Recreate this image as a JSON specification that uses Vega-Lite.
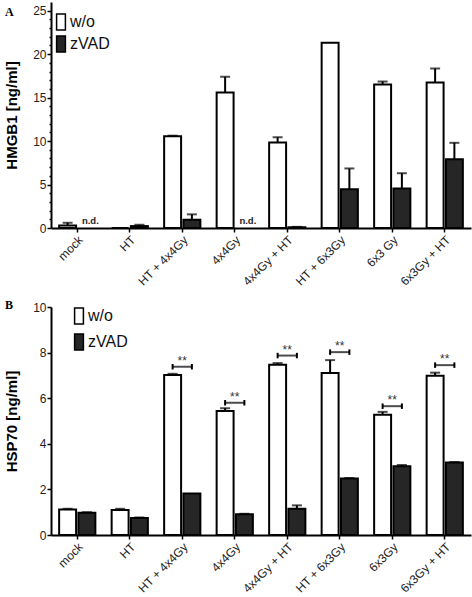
{
  "$schema": "https://vega.github.io/schema/vega-lite/v6.json",
  "padding": {"left": 4, "top": 2, "right": 2, "bottom": 2},
  "spacing": 11,
  "config": {
    "font": "Liberation Sans",
    "view": {"stroke": null},
    "axis": {"grid": false, "domainColor": "black", "domainWidth": 2, "tickColor": "black", "tickWidth": 1.5, "labelColor": "#222", "labelFontSize": 12, "titleFontWeight": "bold", "titleFontSize": 15, "titleColor": "black"}
  },
  "datasets": {
    "hmgb1": [
      {"cat": "mock", "grp": "w/o", "mean": 0.3, "hi": 0.6},
      {"cat": "mock", "grp": "zVAD", "mean": 0, "hi": null, "label": "n.d."},
      {"cat": "HT", "grp": "w/o", "mean": 0, "hi": null},
      {"cat": "HT", "grp": "zVAD", "mean": 0.22, "hi": 0.37},
      {"cat": "HT + 4x4Gy", "grp": "w/o", "mean": 10.55, "hi": 10.62},
      {"cat": "HT + 4x4Gy", "grp": "zVAD", "mean": 0.95, "hi": 1.57},
      {"cat": "4x4Gy", "grp": "w/o", "mean": 15.6, "hi": 17.4},
      {"cat": "4x4Gy", "grp": "zVAD", "mean": 0, "hi": null, "label": "n.d."},
      {"cat": "4x4Gy + HT", "grp": "w/o", "mean": 9.85, "hi": 10.44},
      {"cat": "4x4Gy + HT", "grp": "zVAD", "mean": 0.1, "hi": 0.13},
      {"cat": "HT + 6x3Gy", "grp": "w/o", "mean": 21.3, "hi": null},
      {"cat": "HT + 6x3Gy", "grp": "zVAD", "mean": 4.45, "hi": 6.85},
      {"cat": "6x3 Gy", "grp": "w/o", "mean": 16.5, "hi": 16.85},
      {"cat": "6x3 Gy", "grp": "zVAD", "mean": 4.55, "hi": 6.3},
      {"cat": "6x3Gy + HT", "grp": "w/o", "mean": 16.75, "hi": 18.35},
      {"cat": "6x3Gy + HT", "grp": "zVAD", "mean": 7.9, "hi": 9.8}
    ],
    "hsp70": [
      {"cat": "mock", "grp": "w/o", "mean": 1.12, "hi": 1.15},
      {"cat": "mock", "grp": "zVAD", "mean": 0.98, "hi": 1.0},
      {"cat": "HT", "grp": "w/o", "mean": 1.1, "hi": 1.15},
      {"cat": "HT", "grp": "zVAD", "mean": 0.75, "hi": 0.77},
      {"cat": "HT + 4x4Gy", "grp": "w/o", "mean": 7.02, "hi": 7.07},
      {"cat": "HT + 4x4Gy", "grp": "zVAD", "mean": 1.82, "hi": null},
      {"cat": "4x4Gy", "grp": "w/o", "mean": 5.44, "hi": 5.56},
      {"cat": "4x4Gy", "grp": "zVAD", "mean": 0.91, "hi": 0.93},
      {"cat": "4x4Gy + HT", "grp": "w/o", "mean": 7.47, "hi": 7.54},
      {"cat": "4x4Gy + HT", "grp": "zVAD", "mean": 1.15, "hi": 1.3},
      {"cat": "HT + 6x3Gy", "grp": "w/o", "mean": 7.1, "hi": 7.67},
      {"cat": "HT + 6x3Gy", "grp": "zVAD", "mean": 2.48, "hi": 2.5},
      {"cat": "6x3Gy", "grp": "w/o", "mean": 5.27, "hi": 5.4},
      {"cat": "6x3Gy", "grp": "zVAD", "mean": 3.02, "hi": 3.07},
      {"cat": "6x3Gy + HT", "grp": "w/o", "mean": 6.98, "hi": 7.12},
      {"cat": "6x3Gy + HT", "grp": "zVAD", "mean": 3.18, "hi": 3.2}
    ],
    "brackets": [
      {"cat": "HT + 4x4Gy", "grp": "w/o", "y": 7.38, "sig": "**"},
      {"cat": "HT + 4x4Gy", "grp": "zVAD", "y": 7.38, "sig": "**"},
      {"cat": "4x4Gy", "grp": "w/o", "y": 5.8, "sig": "**"},
      {"cat": "4x4Gy", "grp": "zVAD", "y": 5.8, "sig": "**"},
      {"cat": "4x4Gy + HT", "grp": "w/o", "y": 7.87, "sig": "**"},
      {"cat": "4x4Gy + HT", "grp": "zVAD", "y": 7.87, "sig": "**"},
      {"cat": "HT + 6x3Gy", "grp": "w/o", "y": 8.02, "sig": "**"},
      {"cat": "HT + 6x3Gy", "grp": "zVAD", "y": 8.02, "sig": "**"},
      {"cat": "6x3Gy", "grp": "w/o", "y": 5.65, "sig": "**"},
      {"cat": "6x3Gy", "grp": "zVAD", "y": 5.65, "sig": "**"},
      {"cat": "6x3Gy + HT", "grp": "w/o", "y": 7.45, "sig": "**"},
      {"cat": "6x3Gy + HT", "grp": "zVAD", "y": 7.45, "sig": "**"}
    ]
  },
  "resolve": {"scale": {"fill": "independent"}, "legend": {"fill": "independent"}},
  "vconcat": [
    {
      "width": 420,
      "height": 226,
      "title": {"text": "A", "anchor": "start", "frame": "group", "dx": -46, "dy": 21, "font": "Liberation Serif", "fontSize": 12, "fontWeight": "bold", "color": "black"},
      "data": {"name": "hmgb1"},
      "resolve": {"axis": {"y": "independent"}},
      "encoding": {
        "x": {"field": "cat", "type": "nominal", "sort": ["mock", "HT", "HT + 4x4Gy", "4x4Gy", "4x4Gy + HT", "HT + 6x3Gy", "6x3 Gy", "6x3Gy + HT"],
          "scale": {"paddingInner": 0.31, "paddingOuter": 0.155},
          "axis": {"title": null, "labelAngle": -45, "tickSize": 4, "labelPadding": 2, "labelFontSize": 12}}
      },
      "layer": [
        {
          "transform": [{"filter": "!isValid(datum.label)"}],
          "mark": {"type": "bar", "stroke": "black", "strokeWidth": 2},
          "encoding": {
            "xOffset": {"field": "grp", "type": "nominal", "scale": {"domain": ["w/o", "zVAD"], "paddingInner": 0.12}},
            "y": {"field": "mean", "type": "quantitative", "scale": {"domain": [0, 25]},
              "axis": {"title": "HMGB1 [ng/ml]", "orient": "left", "values": [0, 5, 10, 15, 20, 25], "tickSize": 4,
                "labelPadding": 1, "titlePadding": 13}},
            "fill": {"field": "grp", "type": "nominal", "scale": {"domain": ["w/o", "zVAD"], "range": ["white", "#262626"]},
              "legend": {"orient": "none", "legendX": 1, "legendY": 11, "title": null, "symbolType": "M-0.55,-1H0.55V1H-0.55Z", "symbolSize": 256, "symbolStrokeColor": "black", "symbolStrokeWidth": 1.5, "labelFontSize": 16, "labelColor": "#111", "labelOffset": 0, "rowPadding": 0}}
          }
        },
        {
          "transform": [{"filter": "isValid(datum.hi)"}],
          "mark": {"type": "rule", "strokeWidth": 2, "color": "black"},
          "encoding": {
            "xOffset": {"field": "grp", "type": "nominal"},
            "y": {"field": "mean", "type": "quantitative",
              "axis": {"orient": "left", "title": null, "labels": false, "domain": false, "tickSize": 2,
                "values": [1,2,3,4,6,7,8,9,11,12,13,14,16,17,18,19,21,22,23,24]}},
            "y2": {"field": "hi"}
          }
        },
        {
          "transform": [{"filter": "isValid(datum.hi)"}],
          "mark": {"type": "tick", "thickness": 2, "size": 10, "color": "black"},
          "encoding": {
            "xOffset": {"field": "grp", "type": "nominal"},
            "y": {"field": "hi", "type": "quantitative", "axis": null}
          }
        },
        {
          "transform": [{"filter": "isValid(datum.label)"}],
          "mark": {"type": "text", "align": "left", "baseline": "alphabetic", "dx": -5, "dy": -4, "fontWeight": "bold", "fontSize": 9.5, "color": "#222"},
          "encoding": {
            "xOffset": {"field": "grp", "type": "nominal"},
            "y": {"field": "mean", "type": "quantitative", "axis": null},
            "text": {"field": "label"}
          }
        }
      ]
    },
    {
      "width": 420,
      "height": 228,
      "title": {"text": "B", "anchor": "start", "frame": "group", "dx": -46, "dy": 15, "font": "Liberation Serif", "fontSize": 12, "fontWeight": "bold", "color": "black"},
      "encoding": {
        "x": {"field": "cat", "type": "nominal", "sort": ["mock", "HT", "HT + 4x4Gy", "4x4Gy", "4x4Gy + HT", "HT + 6x3Gy", "6x3Gy", "6x3Gy + HT"],
          "scale": {"paddingInner": 0.31, "paddingOuter": 0.155},
          "axis": {"title": null, "labelAngle": -45, "tickSize": 4, "labelPadding": 2, "labelFontSize": 12}}
      },
      "layer": [
        {
          "data": {"name": "hsp70"},
          "mark": {"type": "bar", "stroke": "black", "strokeWidth": 2},
          "encoding": {
            "xOffset": {"field": "grp", "type": "nominal", "scale": {"domain": ["w/o", "zVAD"], "paddingInner": 0.12}},
            "y": {"field": "mean", "type": "quantitative", "scale": {"domain": [0, 10]},
              "axis": {"title": "HSP70 [ng/ml]", "values": [0,0.5,1,1.5,2,2.5,3,3.5,4,4.5,5,5.5,6,6.5,7,7.5,8,8.5,9,9.5,10],
                "labelExpr": "datum.value % 2 === 0 ? datum.label : ''",
                "tickSize": {"condition": {"test": "datum.value % 2 === 0", "value": 4}, "value": 2},
                "labelPadding": 1, "titlePadding": 13, "labelOverlap": false}},
            "fill": {"field": "grp", "type": "nominal", "scale": {"domain": ["w/o", "zVAD"], "range": ["white", "#262626"]},
              "legend": {"orient": "none", "legendX": 19, "legendY": 0, "title": null, "symbolType": "M-0.55,-1H0.55V1H-0.55Z", "symbolSize": 256, "symbolStrokeColor": "black", "symbolStrokeWidth": 1.5, "labelFontSize": 16, "labelColor": "#111", "labelOffset": 0, "rowPadding": 4}}
          }
        },
        {
          "data": {"name": "hsp70"},
          "transform": [{"filter": "isValid(datum.hi)"}],
          "mark": {"type": "rule", "strokeWidth": 2, "color": "black"},
          "encoding": {
            "xOffset": {"field": "grp", "type": "nominal"},
            "y": {"field": "mean", "type": "quantitative"},
            "y2": {"field": "hi"}
          }
        },
        {
          "data": {"name": "hsp70"},
          "transform": [{"filter": "isValid(datum.hi)"}],
          "mark": {"type": "tick", "thickness": 2, "size": 10, "color": "black"},
          "encoding": {
            "xOffset": {"field": "grp", "type": "nominal"},
            "y": {"field": "hi", "type": "quantitative"}
          }
        },
        {
          "data": {"name": "brackets"},
          "transform": [{"filter": "datum.grp === 'w/o'"}],
          "mark": {"type": "tick", "thickness": 2, "size": 20, "color": "black"},
          "encoding": {
            "y": {"field": "y", "type": "quantitative"}
          }
        },
        {
          "data": {"name": "brackets"},
          "mark": {"type": "point", "shape": "M0,-1L0,1", "size": 30, "filled": false, "strokeWidth": 2, "color": "black", "opacity": 1},
          "encoding": {
            "xOffset": {"field": "grp", "type": "nominal"},
            "y": {"field": "y", "type": "quantitative"}
          }
        },
        {
          "data": {"name": "brackets"},
          "transform": [{"filter": "datum.grp === 'w/o'"}],
          "mark": {"type": "text", "baseline": "alphabetic", "dy": -2, "fontSize": 12, "color": "#333"},
          "encoding": {
            "y": {"field": "y", "type": "quantitative"},
            "text": {"field": "sig"}
          }
        }
      ]
    }
  ]
}
